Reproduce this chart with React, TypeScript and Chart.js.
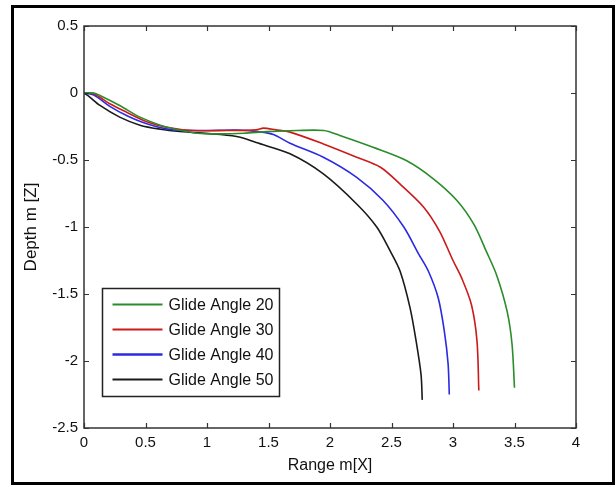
import React, { useEffect, useRef } from "react";
import { Chart, registerables } from "chart.js";

Chart.register(...registerables);

const seriesLabels = ["Glide Angle 20", "Glide Angle 30", "Glide Angle 40", "Glide Angle 50"];
const seriesColors = ["#2a8c2a", "#cc1a1a", "#2a2ae0", "#1a1a1a"];

const angle20X = [0, 0.08, 0.13, 0.29, 0.455, 0.62, 0.73, 0.92, 1.11, 1.30, 1.49, 1.73, 1.95, 2.08, 2.35, 2.62, 2.84, 3.03, 3.17, 3.27, 3.355, 3.44, 3.48, 3.50];
const angle20Y = [0, 0.0, -0.018, -0.093, -0.18, -0.24, -0.267, -0.30, -0.305, -0.30, -0.288, -0.28, -0.28, -0.317, -0.405, -0.504, -0.64, -0.80, -0.98, -1.18, -1.36, -1.63, -1.875, -2.2];

const angle30X = [0, 0.08, 0.21, 0.35, 0.51, 0.67, 0.89, 1.16, 1.40, 1.46, 1.56, 1.675, 1.946, 2.217, 2.41, 2.57, 2.76, 2.89, 3.00, 3.07, 3.15, 3.195, 3.21];
const angle30Y = [0, -0.005, -0.08, -0.145, -0.215, -0.255, -0.28, -0.28, -0.275, -0.262, -0.275, -0.292, -0.38, -0.479, -0.554, -0.68, -0.85, -1.03, -1.25, -1.38, -1.58, -1.85, -2.22];

const angle40X = [0, 0.08, 0.21, 0.35, 0.51, 0.70, 0.97, 1.24, 1.43, 1.54, 1.675, 1.946, 2.217, 2.43, 2.60, 2.72, 2.80, 2.88, 2.93, 2.96, 2.97];
const angle40Y = [0, -0.015, -0.10, -0.17, -0.23, -0.272, -0.28, -0.276, -0.29, -0.31, -0.375, -0.479, -0.629, -0.80, -1.00, -1.20, -1.33, -1.53, -1.78, -2.02, -2.25];

const angle50X = [0, 0.04, 0.13, 0.29, 0.455, 0.62, 0.78, 1.11, 1.27, 1.40, 1.675, 1.946, 2.217, 2.38, 2.49, 2.57, 2.65, 2.70, 2.74, 2.75];
const angle50Y = [0, -0.025, -0.093, -0.18, -0.24, -0.27, -0.287, -0.31, -0.33, -0.37, -0.454, -0.604, -0.828, -1.00, -1.18, -1.33, -1.60, -1.85, -2.10, -2.29];

const xTicks = [0, 0.5, 1, 1.5, 2, 2.5, 3, 3.5, 4];
const yTicks = [0.5, 0, -0.5, -1, -1.5, -2, -2.5];

const xTitle = "Range m[X]";
const yTitle = "Depth m [Z]";

const FONT = "'Liberation Sans', Arial, Helvetica, sans-serif";

function pairs(xs: number[], ys: number[]) {
  return xs.map((x, i) => ({ x, y: ys[i] }));
}

const decor = {
  id: "decor",
  beforeDraw(chart: any) {
    const ctx = chart.ctx;
    ctx.save();
    ctx.fillStyle = "#ffffff";
    ctx.fillRect(0, 0, chart.width, chart.height);
    ctx.strokeStyle = "#000000";
    ctx.lineWidth = 3;
    ctx.strokeRect(12.5, 6.5, 601, 477);
    ctx.restore();
  },
  afterDatasetsDraw(chart: any) {
    const ctx = chart.ctx;
    const a = chart.chartArea;
    const xs = chart.scales.x;
    const ys = chart.scales.y;
    ctx.save();
    ctx.strokeStyle = "#333333";
    ctx.lineWidth = 1.5;
    ctx.strokeRect(a.left, a.top, a.right - a.left, a.bottom - a.top);
    ctx.lineWidth = 1.2;
    const tl = 5;
    ctx.beginPath();
    xTicks.forEach((v) => {
      const p = Math.round(xs.getPixelForValue(v)) + 0.5;
      ctx.moveTo(p, a.bottom);
      ctx.lineTo(p, a.bottom - tl);
      ctx.moveTo(p, a.top);
      ctx.lineTo(p, a.top + tl);
    });
    yTicks.forEach((v) => {
      const p = Math.round(ys.getPixelForValue(v)) + 0.5;
      ctx.moveTo(a.left, p);
      ctx.lineTo(a.left + tl, p);
      ctx.moveTo(a.right, p);
      ctx.lineTo(a.right - tl, p);
    });
    ctx.stroke();

    const bx = a.left + 18.5;
    const by = a.top + 262.5;
    const bw = 177;
    const bh = 108;
    ctx.fillStyle = "#ffffff";
    ctx.fillRect(bx, by, bw, bh);
    ctx.strokeStyle = "#222222";
    ctx.lineWidth = 1.5;
    ctx.strokeRect(bx, by, bw, bh);
    ctx.font = "16px " + FONT;
    ctx.textBaseline = "middle";
    ctx.textAlign = "left";
    chart.data.datasets.forEach((ds: any, i: number) => {
      const ry = by + 16 + i * 25;
      ctx.strokeStyle = ds.borderColor;
      ctx.lineWidth = i === 2 ? 2.5 : 2;
      ctx.beginPath();
      ctx.moveTo(bx + 10, ry);
      ctx.lineTo(bx + 60, ry);
      ctx.stroke();
      ctx.fillStyle = "#111111";
      ctx.fillText(ds.label, bx + 66, ry + 1);
    });
    ctx.restore();
  },
};

export default function App() {
  const ref = useRef<HTMLCanvasElement | null>(null);

  useEffect(() => {
    if (!ref.current) return;
    const allX = [angle20X, angle30X, angle40X, angle50X];
    const allY = [angle20Y, angle30Y, angle40Y, angle50Y];
    const chart = new Chart(ref.current, {
      type: "line",
      data: {
        datasets: seriesLabels.map((label, i) => ({
          label,
          data: pairs(allX[i], allY[i]),
          borderColor: seriesColors[i],
          backgroundColor: seriesColors[i],
          borderWidth: 1.6,
          pointRadius: 0,
          tension: 0.3,
          fill: false,
        })),
      },
      options: {
        responsive: false,
        animation: false,
        devicePixelRatio: 1,
        layout: { padding: { top: 26, right: 40, left: 0, bottom: 0 } },
        plugins: {
          legend: { display: false },
          tooltip: { enabled: false },
        },
        scales: {
          x: {
            type: "linear",
            min: 0,
            max: 4,
            afterFit: (s: any) => {
              s.height = 59;
            },
            afterBuildTicks: (s: any) => {
              s.ticks = xTicks.map((v) => ({ value: v }));
            },
            grid: { display: false, drawTicks: false },
            border: { display: false },
            ticks: {
              padding: 6,
              color: "#111111",
              font: { family: FONT, size: 15 },
              callback: (v: any) => String(v),
            },
            title: {
              display: true,
              text: xTitle,
              color: "#111111",
              font: { family: FONT, size: 16 },
              padding: { top: 0, bottom: 12 },
            },
          },
          y: {
            type: "linear",
            min: -2.5,
            max: 0.5,
            afterFit: (s: any) => {
              s.width = 84;
            },
            afterBuildTicks: (s: any) => {
              s.ticks = yTicks.map((v) => ({ value: v }));
            },
            grid: { display: false, drawTicks: false },
            border: { display: false },
            ticks: {
              padding: 6,
              color: "#111111",
              font: { family: FONT, size: 15 },
              callback: (v: any) => String(v),
            },
            title: {
              display: true,
              text: yTitle,
              color: "#111111",
              font: { family: FONT, size: 17 },
              padding: { top: 21, bottom: 0 },
            },
          },
        },
      },
      plugins: [decor],
    });
    return () => chart.destroy();
  }, []);

  return (
    <div style={{ position: "absolute", left: 0, top: 0, width: 616, height: 487 }}>
      <canvas ref={ref} width={616} height={487} style={{ display: "block" }} />
    </div>
  );
}
